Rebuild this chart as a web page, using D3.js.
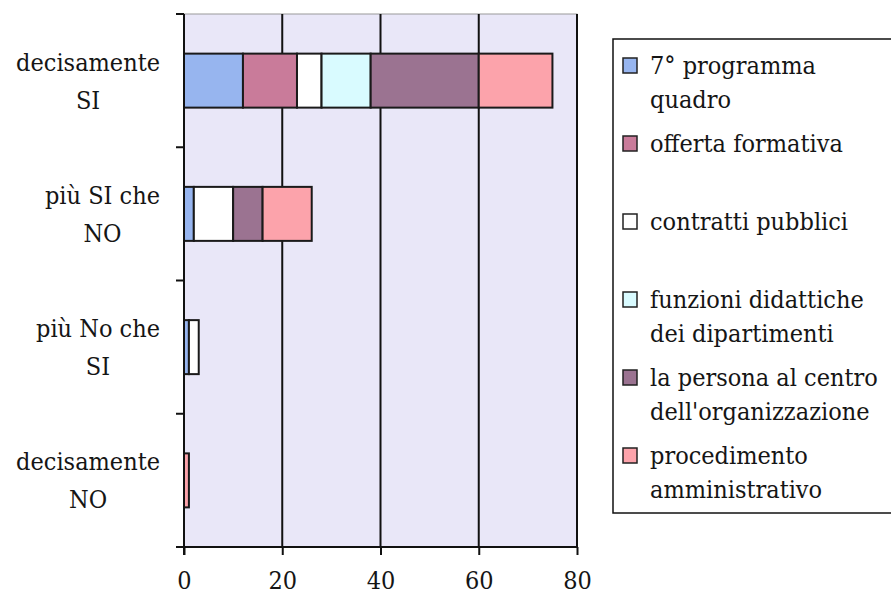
<!DOCTYPE html>
<html>
<head>
<meta charset="utf-8">
<script src="https://cdn.jsdelivr.net/npm/d3@7"></script>
<style>
  body { margin: 0; background: #fff; }
  svg { display: block; }
  svg text { font-family: "DejaVu Serif Condensed", "DejaVu Serif", serif; fill: #151515; }
</style>
</head>
<body>
<svg id="chart" width="891" height="604"></svg>
<script>
// categorie (asse verticale) e righe delle etichette
const categorie = ["decisamente SI", "più SI che NO", "più No che SI", "decisamente NO"];
const righeCategorie = [["decisamente", "SI"], ["più SI che", "NO"], ["più No che", "SI"], ["decisamente", "NO"]];

// serie
const serie = ["7° programma quadro", "offerta formativa", "contratti pubblici",
  "funzioni didattiche dei dipartimenti", "la persona al centro dell'organizzazione",
  "procedimento amministrativo"];
const righeLegenda = [["7° programma", "quadro"], ["offerta formativa"], ["contratti pubblici"],
  ["funzioni didattiche", "dei dipartimenti"], ["la persona al centro", "dell'organizzazione"],
  ["procedimento", "amministrativo"]];
const colori = ["#97b5ef", "#c97b9a", "#ffffff", "#d9fbff", "#9b7391", "#fca3ab"];

// valori, nell'ordine delle categorie
const programmaQuadro = [12, 2, 1, 0];
const offertaFormativa = [11, 0, 0, 0];
const contrattiPubblici = [5, 8, 2, 0];
const funzioniDidattiche = [10, 0, 0, 0];
const personaCentro = [22, 6, 0, 0];
const procedimentoAmm = [15, 10, 0, 1];

const xTicks = [0, 20, 40, 60, 80];

const valori = [programmaQuadro, offertaFormativa, contrattiPubblici,
  funzioniDidattiche, personaCentro, procedimentoAmm];

// tabella per d3.stack
const righe = categorie.map((c, i) => {
  let r = { categoria: c };
  serie.forEach((s, j) => { r[s] = valori[j][i]; });
  return r;
});

const svg = d3.select("#chart");
const FONT = "'DejaVu Serif Condensed', 'DejaVu Serif', serif";

const pSx = 184, pDx = 577, pAlto = 14, pBasso = 547;

const x = d3.scaleLinear().domain([0, 80]).range([pSx, pDx]);
const y = d3.scaleBand().domain(categorie).range([pAlto, pBasso]).padding(0);
const barH = 54;

// area del grafico
svg.append("rect")
  .attr("x", pSx).attr("y", pAlto)
  .attr("width", pDx - pSx).attr("height", pBasso - pAlto)
  .attr("fill", "#e9e7f8")
  .attr("stroke", "#9a9a9a")
  .attr("stroke-width", 1);

// griglia verticale
svg.append("g")
  .selectAll("line")
  .data(xTicks.slice(1))
  .enter()
  .append("line")
  .attr("x1", d => x(d)).attr("x2", d => x(d))
  .attr("y1", pAlto).attr("y2", pBasso)
  .attr("stroke", "#111")
  .attr("stroke-width", 2);

// barre impilate
const stack = d3.stack().keys(serie)(righe);

svg.append("g")
  .selectAll("g")
  .data(stack)
  .enter()
  .append("g")
  .attr("fill", (d, i) => colori[i])
  .selectAll("rect")
  .data(d => d.filter(p => p[1] - p[0] > 0))
  .enter()
  .append("rect")
  .attr("x", d => x(d[0]))
  .attr("width", d => x(d[1]) - x(d[0]))
  .attr("y", d => y(d.data.categoria) + y.bandwidth() / 2 - barH / 2)
  .attr("height", barH)
  .attr("stroke", "#1a1a1a")
  .attr("stroke-width", 2);

// asse x
const xAxis = svg.append("g")
  .attr("transform", "translate(0," + pBasso + ")")
  .call(d3.axisBottom(x).tickValues(xTicks).tickSize(8).tickPadding(16).tickSizeOuter(0));
xAxis.attr("font-family", null);
xAxis.select(".domain").attr("stroke", "#111").attr("stroke-width", 2)
  .attr("d", "M" + (pSx - 8) + ",0H" + pDx);
xAxis.selectAll(".tick line").attr("stroke", "#111").attr("stroke-width", 2);
xAxis.selectAll(".tick text")
  .style("font-family", FONT)
  .style("font-size", "25px")
  .attr("fill", "#151515");

// asse y
const yTicks = categorie.map(c => y(c)).concat([pBasso]);
svg.append("line")
  .attr("x1", pSx).attr("x2", pSx)
  .attr("y1", pAlto).attr("y2", pBasso + 8)
  .attr("stroke", "#111").attr("stroke-width", 2);
svg.append("g")
  .selectAll("line")
  .data(yTicks)
  .enter()
  .append("line")
  .attr("x1", pSx - 8).attr("x2", pSx)
  .attr("y1", d => d).attr("y2", d => d)
  .attr("stroke", "#111").attr("stroke-width", 2);

// etichette categorie (centrate, blocco allineato a destra)
categorie.forEach((c, i) => {
  let g = svg.append("g");
  let cy = y(c) + y.bandwidth() / 2;
  let righeT = righeCategorie[i];
  let testi = righeT.map((t, k) => g.append("text")
    .text(t)
    .attr("y", cy + (k - (righeT.length - 1) / 2) * 38 + 9)
    .attr("text-anchor", "middle")
    .style("font-family", FONT)
    .style("font-size", "25px"));
  let maxW = d3.max(testi, t => t.node().getComputedTextLength());
  testi.forEach(t => t.attr("x", 160 - maxW / 2));
});

// legenda
const legenda = svg.append("g");
legenda.append("rect")
  .attr("x", 613).attr("y", 39)
  .attr("width", 290).attr("height", 474)
  .attr("fill", "#fff")
  .attr("stroke", "#111")
  .attr("stroke-width", 1.5);

serie.forEach((s, i) => {
  let base = 74 + i * 78;
  legenda.append("rect")
    .attr("x", 623).attr("y", base - 16)
    .attr("width", 14).attr("height", 15)
    .attr("fill", colori[i])
    .attr("stroke", "#222")
    .attr("stroke-width", 1.5);
  righeLegenda[i].forEach((r, k) => {
    legenda.append("text")
      .text(r)
      .attr("x", 650)
      .attr("y", base + k * 34)
      .style("font-family", FONT)
      .style("font-size", "25px");
  });
});
</script>
</body>
</html>
